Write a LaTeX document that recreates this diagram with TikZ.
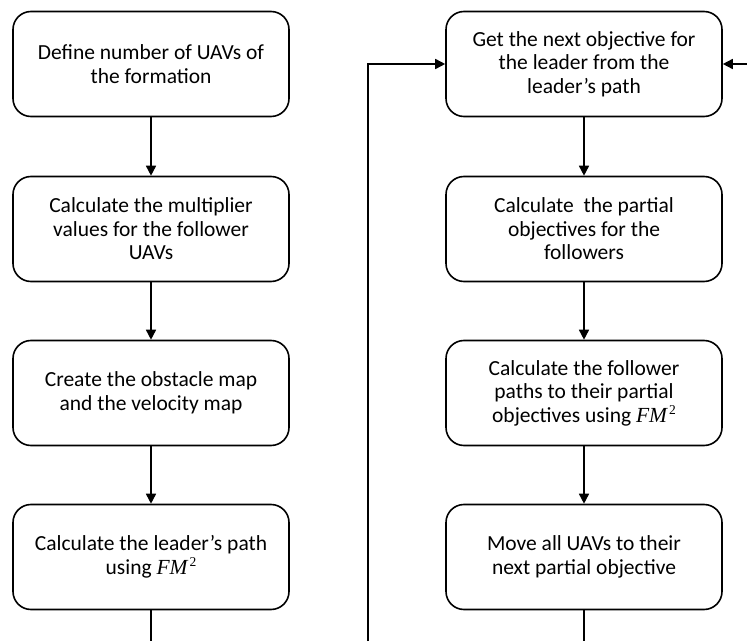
\documentclass[tikz,border=0pt]{standalone}
\usepackage{fontspec}
\setmainfont{Carlito}
\newfontfamily\fmfont{Liberation Serif}
\usetikzlibrary{arrows.meta}
% the FM^2 symbol, set in a serif like the equation font
\newcommand{\fmsq}{{\fmfont\itshape FM}\kern2pt\raisebox{0.36em}{\fmfont\fontsize{13.5}{13.5}\selectfont 2}}
\tikzset{
  stepbox/.style={draw, line width=1.6pt, rounded corners=18pt,
    minimum width=276pt, minimum height=105pt, align=center,
    inner sep=0pt, font=\fontsize{21.5}{23.5}\selectfont},
  flow/.style={line width=1.6pt, -{Triangle[length=10pt,width=10pt]}},
  plain/.style={line width=1.6pt}
}
\begin{document}
\begin{tikzpicture}[x=1pt,y=1pt]
\useasboundingbox (0,0) rectangle (747,641);
% left column
\node[stepbox] (a1) at (151,577) {Define number of UAVs of\\the formation};
\node[stepbox] (a2) at (151,412) {Calculate the multiplier\\values for the follower\\UAVs};
\node[stepbox] (a3) at (151,248) {Create the obstacle map\\and the velocity map};
\node[stepbox] (a4) at (151,84) {Calculate the leader’s path\\using \fmsq};
% right column
\node[stepbox] (b1) at (584,577) {Get the next objective for\\the leader from the\\leader’s path};
\node[stepbox] (b2) at (584,412) {Calculate~ the partial\\objectives for the\\followers};
\node[stepbox] (b3) at (584,248) {Calculate the follower\\paths to their partial\\objectives using \fmsq};
\node[stepbox] (b4) at (584,84) {Move all UAVs to their\\next partial objective};
% free ends at the border
\coordinate (aout) at (151,0);
\coordinate (loopin) at (368,0);
\coordinate (loopup) at (368,577);
\coordinate (bout) at (584,0);
\coordinate (back) at (747,577);
% connectors
\draw[flow] (a1) -- (a2);
\draw[flow] (a2) -- (a3);
\draw[flow] (a3) -- (a4);
\draw[plain] (a4) -- (aout);
\draw[flow] (b1) -- (b2);
\draw[flow] (b2) -- (b3);
\draw[flow] (b3) -- (b4);
\draw[plain] (b4) -- (bout);
\draw[flow] (loopin) -- (loopup) -- (b1.west);
\draw[flow] (back) -- (b1.east);
\end{tikzpicture}
\end{document}
